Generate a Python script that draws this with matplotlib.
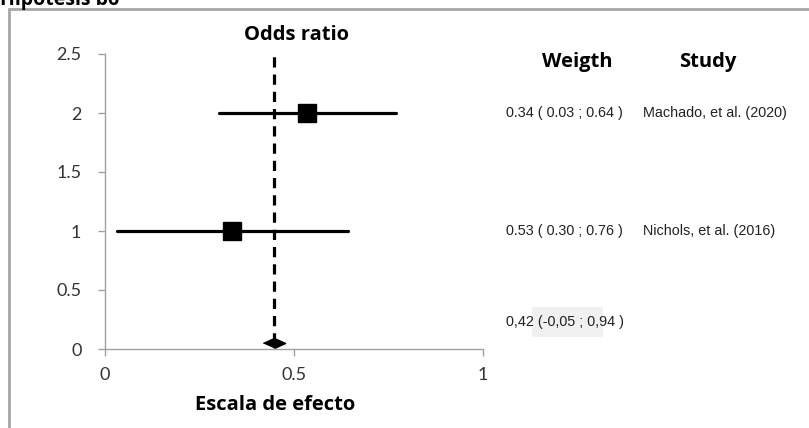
import numpy as np
import matplotlib.pyplot as plt
from matplotlib.patches import Rectangle

# study rows (as drawn)
studies = ["Machado, et al. (2020)", "Nichols, et al. (2016)"]
weight_labels = ["0.34 ( 0.03 ; 0.64 )", "0.53 ( 0.30 ; 0.76 )"]
row_y = [2, 1]
point_est = [0.534, 0.336]
ci_low = [0.302, 0.032]
ci_high = [0.770, 0.643]

# pooled estimate
pooled_x = 0.447
pooled_y = 0.05
pooled_label = "0,42 (-0,05 ; 0,94 )"
ref_line_top = 2.5

x_ticks = [0, 0.5, 1]
x_tick_labels = ["0", "0.5", "1"]
y_ticks = [0, 0.5, 1, 1.5, 2, 2.5]
y_tick_labels = ["0", "0.5", "1", "1.5", "2", "2.5"]

W, H = 809, 428
fig = plt.figure(figsize=(W / 100, H / 100), dpi=100)

# outer chart frame
fig.patches.append(Rectangle((9 / W, -0.1), 1.2, (H - 9) / H + 0.1,
                             transform=fig.transFigure, fill=False,
                             edgecolor="#a6a6a6", linewidth=2))
fig.text(0.0, 1.0 + 10 / H, "Hipótesis b6", fontsize=14, fontweight="bold",
         family="Open Sans", ha="left", va="top")

ax = fig.add_axes([105 / W, 1 - 349 / H, (483 - 105) / W, (349 - 54) / H])

# confidence intervals and point estimates
for y, p, lo, hi in zip(row_y, point_est, ci_low, ci_high):
    ax.plot([lo, hi], [y, y], color="black", lw=2.3, solid_capstyle="round")
    ax.plot(p, y, marker="s", color="black", markersize=12.5)

# pooled diamond
ax.plot(pooled_x, pooled_y, marker=[(-1, 0), (0, 0.45), (1, 0), (0, -0.45)],
        color="black", markersize=16, clip_on=False)

# dashed reference line
ax.plot([pooled_x, pooled_x], [pooled_y, ref_line_top], color="black", lw=2.3,
        dashes=(3.2, 2.2), clip_on=False)

ax.set_xlim(0, 1)
ax.set_ylim(0, 2.5)
ax.set_xticks(x_ticks)
ax.set_xticklabels(x_tick_labels)
ax.set_yticks(y_ticks)
ax.set_yticklabels(y_tick_labels)
for s in ["top", "right"]:
    ax.spines[s].set_visible(False)
for s in ["left", "bottom"]:
    ax.spines[s].set_color("#a0a0a0")
    ax.spines[s].set_linewidth(1)
ax.tick_params(colors="#a0a0a0", length=5, width=1, labelcolor="#333333",
               labelsize=13)
for lab in ax.get_xticklabels() + ax.get_yticklabels():
    lab.set_family("Lato")
ax.tick_params(axis="y", pad=12)
ax.tick_params(axis="x", pad=8)

ax.set_xlabel("Escala de efecto", fontsize=14.5, fontweight="bold",
              family="Open Sans")
ax.xaxis.set_label_coords((275 - 105) / 378, -(405 - 349) / 295, transform=ax.transAxes)
ax.xaxis.label.set_va("center")

# header texts
fig.text(296 / W, 1 - 35 / H, "Odds ratio", fontsize=14.5, fontweight="bold",
         family="Open Sans", ha="center", va="center")
fig.text(577 / W, 1 - 62 / H, "Weigth", fontsize=14.5, fontweight="bold",
         family="Open Sans", ha="center", va="center")
fig.text(708 / W, 1 - 62 / H, "Study", fontsize=14.5, fontweight="bold",
         family="Open Sans", ha="center", va="center")

# row labels
for y, wl, st in zip(row_y, weight_labels, studies):
    ty = ax.transData.transform((0, y))[1] / H
    fig.text(506 / W, ty, wl, fontsize=10.4, family="Liberation Sans",
             ha="left", va="center", color="#222222")
    fig.text(643 / W, ty, st, fontsize=10.4, family="Liberation Sans",
             ha="left", va="center", color="#222222")

fig.patches.append(Rectangle((532 / W, 1 - 337 / H), 71 / W, 30 / H,
                             transform=fig.transFigure, facecolor="#f0f0f0",
                             edgecolor="none", zorder=0))
fig.text(506 / W, 1 - 322 / H, pooled_label, fontsize=10.4, family="Liberation Sans",
         ha="left", va="center", color="#222222")

fig.savefig("out.png", dpi=100)
